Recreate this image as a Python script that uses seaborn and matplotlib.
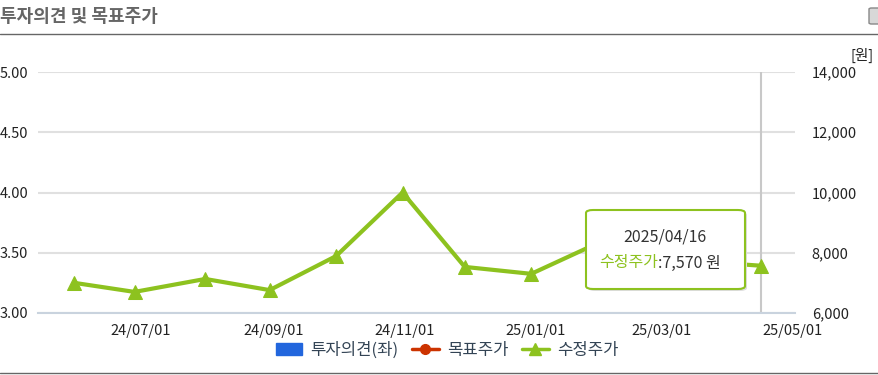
import matplotlib
matplotlib.use("Agg")
import matplotlib.pyplot as plt
import matplotlib.dates as mdates
from matplotlib.lines import Line2D
from matplotlib.patches import Patch, FancyBboxPatch
import seaborn as sns
import pandas as pd

# 데이터
dates = ["2024-05-31", "2024-06-28", "2024-07-31", "2024-08-30", "2024-09-30", "2024-10-31",
         "2024-11-29", "2024-12-30", "2025-01-31", "2025-02-28", "2025-03-31", "2025-04-16"]
prices = [7000, 6700, 7130, 6760, 7890, 10000, 7530, 7300, 8350, 8000, 7650, 7570]
left_ticks = [3.00, 3.50, 4.00, 4.50, 5.00]
right_ticks = [6000, 8000, 10000, 12000, 14000]
xtick_dates = ["2024-07-01", "2024-09-01", "2024-11-01", "2025-01-01", "2025-03-01", "2025-05-01"]
legend_labels = ["투자의견(좌)", "목표주가", "수정주가"]

df = pd.DataFrame({"date": pd.to_datetime(dates), "price": prices})

sns.set_style("white")
plt.rcParams["font.family"] = ["Noto Sans CJK KR", "DejaVu Sans"]

GREEN = "#8dc21f"
W, H = 879, 375
fig = plt.figure(figsize=(W / 100, H / 100), dpi=100)
ax = fig.add_axes([38 / W, (H - 313) / H, (795 - 38) / W, (313 - 72) / H])
ax2 = ax.twinx()

# 왼쪽 축 (투자의견)
ax.set_ylim(3.0, 5.0)
ax.set_yticks(left_ticks)
ax.set_yticklabels([f"{v:.2f}" for v in left_ticks], fontsize=10.5, color="#222")
ax.grid(axis="y", color="#e0e0e0", lw=1.5)
ax.tick_params(axis="y", length=0, pad=7)
for s in ["top", "left", "right"]:
    ax.spines[s].set_visible(False)
ax.spines["bottom"].set_color("#c9d3de")
ax.spines["bottom"].set_linewidth(1.5)

# 오른쪽 축 (수정주가)
sns.lineplot(data=df, x="date", y="price", ax=ax2, color=GREEN, lw=3, marker="^",
             markersize=10, markeredgecolor=GREEN, zorder=5)
ax2.set_ylim(6000, 14000)
ax2.set_yticks(right_ticks)
ax2.set_yticklabels([f"{v:,}" for v in right_ticks], fontsize=10.5, color="#222")
ax2.tick_params(axis="y", length=0, pad=12)
ax2.set_ylabel("")
for s in ax2.spines.values():
    s.set_visible(False)

ax.set_xlim(pd.Timestamp("2024-05-14"), pd.Timestamp("2025-05-02"))
ax.set_xticks(pd.to_datetime(xtick_dates))
ax.xaxis.set_major_formatter(mdates.DateFormatter("%y/%m/%d"))
ax.tick_params(axis="x", length=5, color="#c9d3de", width=1.5, labelsize=10.5,
               labelcolor="#222", pad=3)
ax2.set_xlabel("")
ax.set_xlabel("")

# 크로스헤어
ax.axvline(df["date"].iloc[-1], color="#c8c8c8", lw=1.5, zorder=1)

# 툴팁
fig.patches.append(FancyBboxPatch((588 / W, (H - 291) / H), 159 / W, 79 / H,
                                  boxstyle="round,pad=0,rounding_size=0.008",
                                  transform=fig.transFigure, fc="#dddddd", ec="none",
                                  zorder=9))
fig.patches.append(FancyBboxPatch((586 / W, (H - 289) / H), 159 / W, 79 / H,
                                  boxstyle="round,pad=0,rounding_size=0.008",
                                  transform=fig.transFigure, fc="white", ec=GREEN,
                                  lw=1.5, zorder=10))
fig.text(665 / W, 1 - 237 / H, "2025/04/16", ha="center", va="center",
         fontsize=11.5, color="#333", zorder=11)
t1 = fig.text(599 / W, 1 - 263 / H, "수정주가", ha="left", va="center",
              fontsize=11.5, color=GREEN, zorder=11)
fig.canvas.draw()
bb = t1.get_window_extent()
fig.text(bb.x1 / W, 1 - 263 / H, f":{prices[-1]:,} 원", ha="left", va="center",
         fontsize=11.5, color="#333", zorder=11)

# 제목과 구분선
fig.text(0, 1 - 17 / H, "투자의견 및 목표주가", ha="left", va="center",
         fontsize=13, fontweight="bold", color="#666")
fig.add_artist(Line2D([0, 1], [1 - 33.5 / H, 1 - 33.5 / H], color="#666", lw=1))
fig.add_artist(Line2D([0, 1], [1 - 373 / H, 1 - 373 / H], color="#666", lw=1))
fig.patches.append(FancyBboxPatch((869 / W, 1 - 24 / H), 12 / W, 16 / H,
                                  boxstyle="round,pad=0,rounding_size=0.003",
                                  transform=fig.transFigure, fc="#d8d8d8", ec="#888", lw=1))
fig.text(862 / W, 1 - 55 / H, "[원]", ha="center", va="center", fontsize=10.5, color="#222")

# 범례
handles = [
    Patch(facecolor="#2266dd", edgecolor="#2266dd"),
    Line2D([], [], color="#cc3300", lw=2.5, marker="o", markersize=7),
    Line2D([], [], color=GREEN, lw=2.5, marker="^", markersize=9),
]
fig.legend(handles, legend_labels, loc="center", bbox_to_anchor=(447 / W, 1 - 350 / H),
           ncol=3, frameon=False, fontsize=12, handlelength=1.6, handletextpad=0.5,
           columnspacing=0.8, labelcolor="#334455")

fig.savefig("out.png", dpi=100)
